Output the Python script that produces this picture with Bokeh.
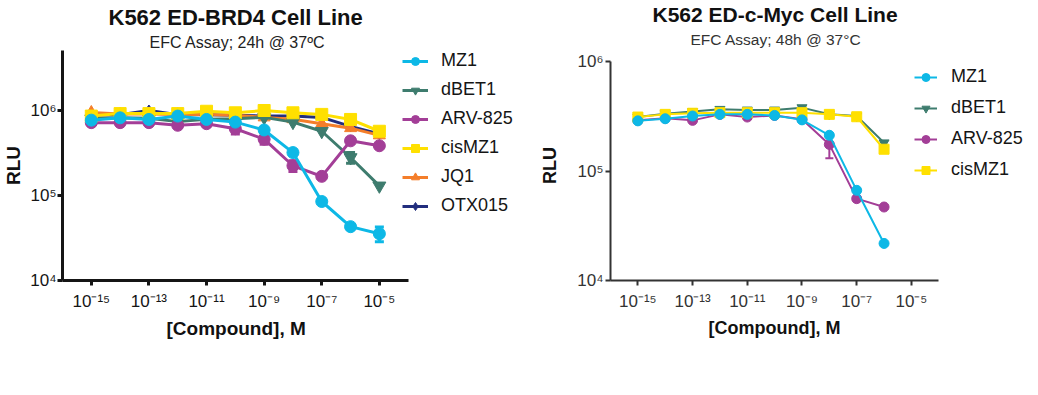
import json
from bokeh.plotting import figure
from bokeh.layouts import row
from bokeh.models import (ColumnDataSource, Range1d, FixedTicker, CustomJSTickFormatter,
                          Legend, LegendItem, Title, Whisker, TeeHead)
from bokeh.embed import file_html
from bokeh.resources import INLINE

FONT = "Liberation Sans"

# ---------------- data: K562 ED-BRD4 (24h) ----------------
brd4_conc = [1e-15, 1e-14, 1e-13, 1e-12, 1e-11, 1e-10, 1e-9, 1e-8, 1e-7, 1e-6, 1e-5]
brd4_mz1 = [7.7e5, 8.2e5, 7.85e5, 8.6e5, 7.85e5, 7.3e5, 5.9e5, 3.2e5, 8.5e4, 4.3e4, 3.55e4]
brd4_dbet1 = [8.0e5, 8.2e5, 8.1e5, 7.4e5, 7.9e5, 8.0e5, 8.3e5, 7.3e5, 5.7e5, 2.8e5, 1.3e5]
brd4_arv825 = [7.2e5, 7.2e5, 7.2e5, 6.7e5, 7.0e5, 6.1e5, 4.6e5, 2.24e5, 1.68e5, 4.4e5, 3.85e5]
brd4_cismz1 = [8.6e5, 9.2e5, 9.2e5, 9.2e5, 9.8e5, 9.4e5, 1.0e6, 9.4e5, 9.0e5, 7.85e5, 5.7e5]
brd4_jq1 = [9.5e5, 9.1e5, 9.1e5, 9.0e5, 9.0e5, 8.8e5, 8.3e5, 7.9e5, 7.0e5, 6.2e5, 5.1e5]
brd4_otx015 = [8.8e5, 8.9e5, 1.0e6, 8.9e5, 8.9e5, 8.8e5, 8.6e5, 8.6e5, 8.3e5, 6.5e5, 5.3e5]

brd4_err_series = ["MZ1", "ARV-825", "ARV-825", "ARV-825", "dBET1"]
brd4_err_conc = [1e-5, 1e-10, 1e-9, 1e-8, 1e-6]
brd4_err_low = [2.85e4, 5.3e5, 4.0e5, 1.92e5, 2.4e5]
brd4_err_high = [4.25e4, 6.9e5, 5.2e5, 2.56e5, 3.2e5]

# ---------------- data: K562 ED-c-Myc (48h) ----------------
myc_conc = [1e-15, 1e-14, 1e-13, 1e-12, 1e-11, 1e-10, 1e-9, 1e-8, 1e-7, 1e-6]
myc_mz1 = [2.87e5, 3.0e5, 3.18e5, 3.29e5, 3.29e5, 3.22e5, 2.93e5, 2.12e5, 6.66e4, 2.18e4]
myc_dbet1 = [3.11e5, 3.34e5, 3.49e5, 3.66e5, 3.61e5, 3.61e5, 3.79e5, 3.3e5, 3.18e5, 1.81e5]
myc_arv825 = [2.9e5, 3.03e5, 2.9e5, 3.29e5, 3.11e5, 3.22e5, 2.97e5, 1.75e5, 5.59e4, 4.69e4]
myc_cismz1 = [3.11e5, 3.29e5, 3.37e5, 3.41e5, 3.41e5, 3.41e5, 3.41e5, 3.29e5, 3.13e5, 1.58e5]

myc_err_series = ["ARV-825"]
myc_err_conc = [1e-8]
myc_err_low = [1.31e5]
myc_err_high = [2.2e5]

x_tick_exponents = [-15, -13, -11, -9, -7, -5]
x_tick_labels = ["10\u207b\u00b9\u2075", "10\u207b\u00b9\u00b3", "10\u207b\u00b9\u00b9",
                 "10\u207b\u2079", "10\u207b\u2077", "10\u207b\u2075"]
y_tick_exponents = [4, 5, 6]
y_tick_labels = ["10\u2074", "10\u2075", "10\u2076"]

COLORS = {"MZ1": "#0DB8E6", "dBET1": "#3E7C6E", "ARV-825": "#A33E97",
          "cisMZ1": "#FFE000", "JQ1": "#F47E2A", "OTX015": "#222E7E"}
MARKERS = {"MZ1": "circle", "dBET1": "inverted_triangle", "ARV-825": "circle",
           "cisMZ1": "square", "JQ1": "triangle", "OTX015": "diamond"}


def fmt(exps, labels):
    mapping = {str(e): l for e, l in zip(exps, labels)}
    code = "const m = %s; const e = Math.round(Math.log10(tick)); return m[String(e)] || '';" % json.dumps(mapping)
    return CustomJSTickFormatter(code=code)


def style_axes(p, lw, color, label_color, tick_size, label_size, x_bounds, y_bounds):
    for ax in (p.xaxis[0], p.yaxis[0]):
        ax.axis_line_width = lw
        ax.axis_line_color = color
        ax.major_tick_line_width = lw
        ax.major_tick_line_color = color
        ax.major_tick_out = 5
        ax.major_tick_in = 0
        ax.minor_tick_line_color = None
        ax.major_label_text_font = FONT
        ax.major_label_text_font_size = tick_size
        ax.major_label_text_color = label_color
        ax.axis_label_text_font = FONT
        ax.axis_label_text_font_style = "bold"
        ax.axis_label_text_font_size = label_size
        ax.axis_label_text_color = "#111111"
    p.xaxis[0].bounds = x_bounds
    p.yaxis[0].bounds = y_bounds
    p.xaxis[0].ticker = FixedTicker(ticks=[10.0 ** e for e in x_tick_exponents])
    p.xaxis[0].formatter = fmt(x_tick_exponents, x_tick_labels)
    p.yaxis[0].ticker = FixedTicker(ticks=[10.0 ** e for e in y_tick_exponents])
    p.yaxis[0].formatter = fmt(y_tick_exponents, y_tick_labels)
    p.yaxis[0].axis_label = "RLU"
    p.xgrid.visible = False
    p.ygrid.visible = False
    p.outline_line_color = None


def draw_series(p, x, y, name, size, lw):
    src = ColumnDataSource(dict(x=x, y=y))
    c = COLORS[name]
    l = p.line("x", "y", source=src, line_color=c, line_width=lw)
    m = p.scatter("x", "y", source=src, marker=MARKERS[name], size=size,
                  fill_color=c, line_color=c)
    return [l, m]


def draw_errors(p, names, xs, lows, highs, lw, head):
    for name in dict.fromkeys(names):
        idx = [i for i, n in enumerate(names) if n == name]
        src = ColumnDataSource(dict(x=[xs[i] for i in idx], lo=[lows[i] for i in idx],
                                    hi=[highs[i] for i in idx]))
        c = COLORS[name]
        w = Whisker(source=src, base="x", lower="lo", upper="hi", dimension="height",
                    line_color=c, line_width=lw,
                    upper_head=TeeHead(size=head, line_color=c, line_width=lw),
                    lower_head=TeeHead(size=head, line_color=c, line_width=lw))
        p.add_layout(w)


def add_titles(p, main, sub, main_size, sub_size, sub_color, main_off, sub_off,
               main_standoff, sub_standoff):
    p.add_layout(Title(text=sub, align="left", offset=sub_off, text_font=FONT,
                       text_font_size=sub_size, text_font_style="normal",
                       text_color=sub_color, text_line_height=1.0,
                       standoff=sub_standoff), "above")
    p.add_layout(Title(text=main, align="left", offset=main_off, text_font=FONT,
                       text_font_size=main_size, text_font_style="bold",
                       text_color="#111111", text_line_height=1.0,
                       standoff=main_standoff), "above")


def add_xlabel(p, text, size, off, standoff):
    p.add_layout(Title(text=text, align="left", offset=off, text_font=FONT,
                       text_font_size=size, text_font_style="bold",
                       text_color="#111111", text_line_height=1.0,
                       standoff=standoff), "below")


# ---------------- left panel ----------------
p1 = figure(x_axis_type="log", y_axis_type="log",
            x_range=Range1d(1e-16, 10 ** -0.17), y_range=Range1d(1e4, 10 ** 6.706),
            frame_width=456, frame_height=230,
            min_border_left=55, min_border_right=0, min_border_top=0, min_border_bottom=68,
            output_backend="svg", toolbar_location=None, background_fill_color="white",
            border_fill_color="white")
style_axes(p1, 3, "#151515", "#151515", "17px", "19px", (1e-16, 1e-4), (1e4, 10 ** 6.706))
p1.xaxis[0].major_label_standoff = 6
p1.yaxis[0].major_label_standoff = 1
p1.yaxis[0].axis_label_standoff = 3
add_titles(p1, "K562 ED-BRD4 Cell Line", "EFC Assay; 24h @ 37\u00baC", "22px", "16px",
           "#222222", 46, 87, 4, 0)
add_xlabel(p1, "[Compound], M", "19px", 104, 4)

draw_errors(p1, brd4_err_series, brd4_err_conc, brd4_err_low, brd4_err_high, 3, 9)
r1 = {}
r1["OTX015"] = draw_series(p1, brd4_conc, brd4_otx015, "OTX015", 11, 3)
r1["JQ1"] = draw_series(p1, brd4_conc, brd4_jq1, "JQ1", 12, 3)
r1["dBET1"] = draw_series(p1, brd4_conc, brd4_dbet1, "dBET1", 13, 3)
r1["ARV-825"] = draw_series(p1, brd4_conc, brd4_arv825, "ARV-825", 12, 3)
r1["cisMZ1"] = draw_series(p1, brd4_conc, brd4_cismz1, "cisMZ1", 12, 3)
r1["MZ1"] = draw_series(p1, brd4_conc, brd4_mz1, "MZ1", 12, 3)

leg1 = Legend(items=[LegendItem(label=n, renderers=r1[n])
                     for n in ["MZ1", "dBET1", "ARV-825", "cisMZ1", "JQ1", "OTX015"]],
              location=(340, 64), border_line_color=None, background_fill_alpha=0,
              padding=0, margin=0, spacing=8, glyph_width=26, glyph_height=20,
              label_height=20, label_standoff=13, label_text_font=FONT,
              label_text_font_size="18px", label_text_color="#151515")
p1.add_layout(leg1)

# ---------------- right panel ----------------
p2 = figure(x_axis_type="log", y_axis_type="log",
            x_range=Range1d(1e-16, 10 ** -0.72), y_range=Range1d(1e4, 10 ** 6.1005),
            frame_width=418, frame_height=230,
            min_border_left=92, min_border_right=0, min_border_top=0, min_border_bottom=68,
            output_backend="svg", toolbar_location=None, background_fill_color="white",
            border_fill_color="white")
style_axes(p2, 2, "#333333", "#333333", "17px", "18px", (1e-16, 1e-4), (1e4, 1e6))
p2.xaxis[0].major_label_standoff = 6
p2.yaxis[0].major_label_standoff = 2
p2.yaxis[0].axis_label_standoff = 14
add_titles(p2, "K562 ED-c-Myc Cell Line", "EFC Assay; 48h @ 37\u00b0C", "21px", "15.5px",
           "#333333", 42, 80, 0, 6)
add_xlabel(p2, "[Compound], M", "18px", 98, 4)

draw_errors(p2, myc_err_series, myc_err_conc, myc_err_low, myc_err_high, 2, 8)
r2 = {}
r2["ARV-825"] = draw_series(p2, myc_conc, myc_arv825, "ARV-825", 10, 2)
r2["dBET1"] = draw_series(p2, myc_conc, myc_dbet1, "dBET1", 10, 2)
r2["cisMZ1"] = draw_series(p2, myc_conc, myc_cismz1, "cisMZ1", 10, 2)
r2["MZ1"] = draw_series(p2, myc_conc, myc_mz1, "MZ1", 10, 2)

leg2 = Legend(items=[LegendItem(label=n, renderers=r2[n])
                     for n in ["MZ1", "dBET1", "ARV-825", "cisMZ1"]],
              location=(304, 100), border_line_color=None, background_fill_alpha=0,
              padding=0, margin=0, spacing=10, glyph_width=23, glyph_height=20,
              label_height=20, label_standoff=14, label_text_font=FONT,
              label_text_font_size="18px", label_text_color="#151515")
p2.add_layout(leg2)

layout = row(p1, p2)
open("out.html", "w").write(file_html(layout, INLINE))
